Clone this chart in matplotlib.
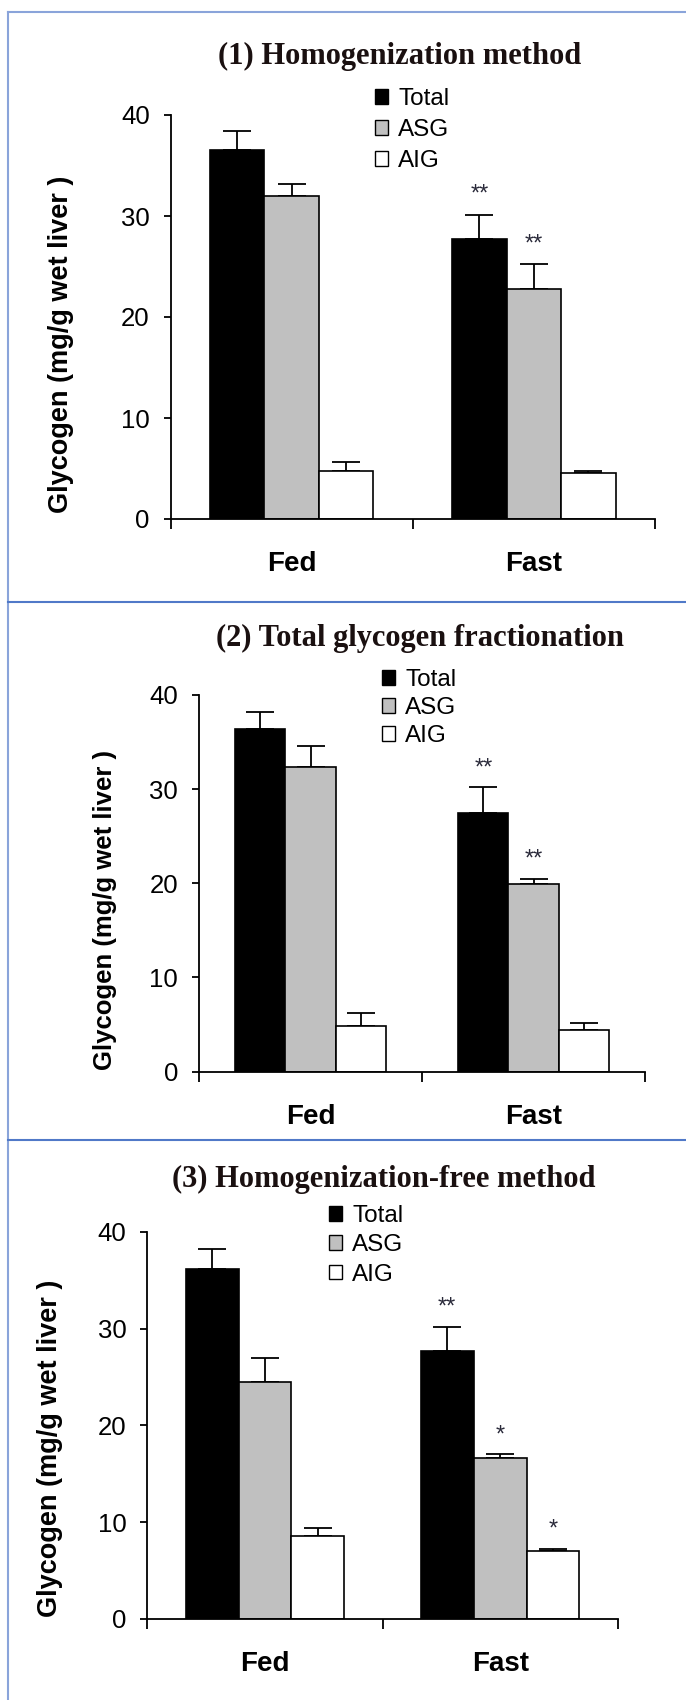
import numpy as np
import matplotlib
matplotlib.use("Agg")
import matplotlib.pyplot as plt
from matplotlib.patches import Patch
from matplotlib.lines import Line2D

# data
groups = ['Fed', 'Fast']
series = ['Total', 'ASG', 'AIG']
colors = ['black', '#c0c0c0', 'white']

titles = ['(1) Homogenization method',
          '(2) Total glycogen fractionation',
          '(3) Homogenization-free method']

means_1 = {'Total': [36.5, 27.7], 'ASG': [32.0, 22.8], 'AIG': [4.8, 4.6]}
errs_1 = {'Total': [1.9, 2.4], 'ASG': [1.2, 2.4], 'AIG': [0.85, 0.15]}
stars_1 = {'Total': ['', '**'], 'ASG': ['', '**'], 'AIG': ['', '']}

means_2 = {'Total': [36.4, 27.5], 'ASG': [32.4, 19.9], 'AIG': [4.8, 4.45]}
errs_2 = {'Total': [1.8, 2.7], 'ASG': [2.2, 0.6], 'AIG': [1.45, 0.75]}
stars_2 = {'Total': ['', '**'], 'ASG': ['', '**'], 'AIG': ['', '']}

means_3 = {'Total': [36.2, 27.7], 'ASG': [24.5, 16.6], 'AIG': [8.6, 7.05]}
errs_3 = {'Total': [2.0, 2.5], 'ASG': [2.5, 0.4], 'AIG': [0.8, 0.15]}
stars_3 = {'Total': ['', '**'], 'ASG': ['', '*'], 'AIG': ['', '*']}

yticks = [0, 10, 20, 30, 40]
ylabel = 'Glycogen (mg/g wet liver )'

W, H = 686, 1700
fig = plt.figure(figsize=(W / 100, H / 100), dpi=100)

# layout per panel, in pixels: axes left/right/top/bottom, title and ylabel centres, legend anchor
panels = [
    dict(ax=(170.6, 655, 115, 519), title=(400, 56), ylab=(61, 344, 19.5), leg=(375, 88, 0.37),
         means=means_1, errs=errs_1, stars=stars_1),
    dict(ax=(199, 645, 695, 1071.6), title=(420, 638), ylab=(105, 910, 18.5), leg=(382, 669, 0.25),
         means=means_2, errs=errs_2, stars=stars_2),
    dict(ax=(147.4, 617.7, 1231.8, 1619), title=(384, 1179), ylab=(50, 1448, 19.5), leg=(329, 1205, 0.3),
         means=means_3, errs=errs_3, stars=stars_3),
]

sans = ['Liberation Sans', 'DejaVu Sans']
serif = ['Liberation Serif', 'DejaVu Serif']
width = 0.225
x = np.arange(len(groups))

for i, p in enumerate(panels):
    l, r, t, b = p['ax']
    ax = fig.add_axes([l / W, 1 - b / H, (r - l) / W, (b - t) / H])

    for j, s in enumerate(series):
        pos = x + (j - 1) * width
        ax.bar(pos, p['means'][s], width, color=colors[j], edgecolor='black', linewidth=1.2, zorder=2)
        ax.errorbar(pos, p['means'][s], yerr=[np.zeros(len(groups)), p['errs'][s]], fmt='none',
                    ecolor='black', elinewidth=1.3, capsize=10, capthick=1.3, zorder=1)
        for k in range(len(groups)):
            if p['stars'][s][k]:
                ax.text(pos[k], p['means'][s][k] + p['errs'][s][k] + 2.0, p['stars'][s][k],
                        ha='center', va='center', fontsize=17, color='#2a2a3a', family=sans)

    ax.set_xlim(-0.5, 1.5)
    ax.set_ylim(0, 40)
    ax.set_yticks(yticks)
    ax.set_yticklabels([str(v) for v in yticks], family=sans, fontsize=18.5)
    ax.tick_params(axis='y', length=5, width=1.3, pad=10, colors='black')
    ax.set_xticks(x)
    ax.set_xticklabels(groups, family=sans, fontsize=20, fontweight='bold')
    ax.set_xticks([-0.5, 0.5, 1.5], minor=True)
    ax.tick_params(axis='x', which='major', length=0, pad=23)
    ax.tick_params(axis='x', which='minor', length=7, width=1.3, direction='out')
    for side in ['top', 'right']:
        ax.spines[side].set_visible(False)
    for side in ['left', 'bottom']:
        ax.spines[side].set_linewidth(1.3)

    handles = [Patch(facecolor=c, edgecolor='black', linewidth=1.0) for c in colors]
    lx, ly, ls = p['leg']
    ax.legend(handles, series, loc='upper left', bbox_to_anchor=(lx / W, 1 - ly / H),
              bbox_transform=fig.transFigure, frameon=False, prop={'family': sans, 'size': 17.5},
              handlelength=0.55, handleheight=0.55, handletextpad=0.4, labelspacing=ls,
              borderpad=0, borderaxespad=0)

    tx, ty = p['title']
    fig.text(tx / W, 1 - ty / H, titles[i], ha='center', va='center', family=serif,
             fontsize=22, fontweight='bold', color='#1a1010')
    yx, yy, ys = p['ylab']
    fig.text(yx / W, 1 - yy / H, ylabel, ha='center', va='center', rotation=90,
             family=sans, fontsize=ys, fontweight='bold')

# blue frame lines
fig.add_artist(Line2D([8.3 / W, 1], [1 - 11.7 / H] * 2, color='#8aa4da', lw=1.5, transform=fig.transFigure))
fig.add_artist(Line2D([8.3 / W] * 2, [0, 1 - 11.7 / H], color='#8aa4da', lw=1.5, transform=fig.transFigure))
for yy in [601.7, 1140]:
    fig.add_artist(Line2D([8.3 / W, 1], [1 - yy / H] * 2, color='#5079c8', lw=1.5, transform=fig.transFigure))

fig.savefig('out.png', dpi=100)
